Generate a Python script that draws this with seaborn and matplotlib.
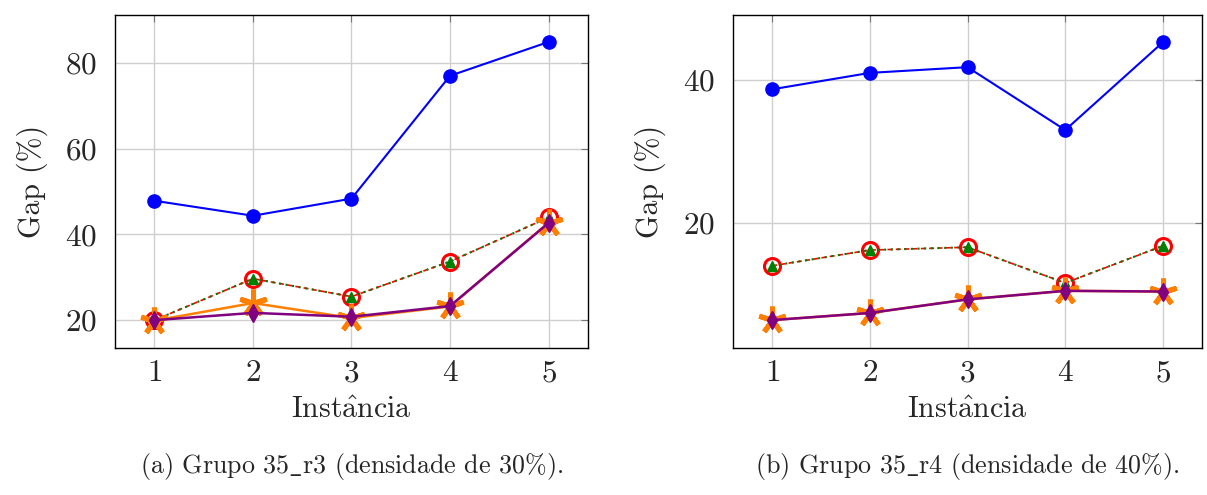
import numpy as np
import pandas as pd
import matplotlib
matplotlib.use("Agg")
import matplotlib.pyplot as plt
import seaborn as sns

sns.set_style("white")
plt.rcParams['font.family'] = ['cmr10', 'DejaVu Serif']
plt.rcParams['mathtext.fontset'] = 'cm'
plt.rcParams['axes.formatter.use_mathtext'] = True

instancias = [1, 2, 3, 4, 5]

# Grupo 35_r3
r3_azul = [47.8, 44.3, 48.3, 77.0, 84.9]
r3_vermelho = [19.9, 29.6, 25.4, 33.6, 43.9]
r3_verde = [19.9, 29.6, 25.4, 33.6, 43.9]
r3_laranja = [19.8, 23.9, 20.4, 23.1, 42.7]
r3_roxo = [19.9, 21.6, 20.7, 23.2, 42.6]

# Grupo 35_r4
r4_azul = [38.7, 41.0, 41.8, 33.0, 45.3]
r4_vermelho = [14.0, 16.2, 16.6, 11.6, 16.8]
r4_verde = [14.0, 16.2, 16.6, 11.6, 16.8]
r4_laranja = [6.4, 7.4, 9.3, 10.5, 10.4]
r4_roxo = [6.4, 7.4, 9.3, 10.5, 10.4]

estilos = [
    dict(color='#0000ff', marker='o', markersize=9.5, lw=1.5, ls='-', mfc='#0000ff', mec='#0000ff', mew=1),
    dict(color='#ff0000', marker='o', markersize=11.5, lw=1.2, ls=(0, (3, 2)), mfc='none', mec='#ff0000', mew=2.2),
    dict(color='#008000', marker='^', markersize=7.5, lw=1.5, ls=(0, (1, 2.2)), mfc='#008000', mec='#008000', mew=1),
    dict(color='#ff8000', marker=(5, 2, 0), markersize=20, lw=1.8, ls='-', mfc='#ff8000', mec='#ff8000', mew=3.6),
    dict(color='#800080', marker='d', markersize=9, lw=1.8, ls='-', mfc='#800080', mec='#800080', mew=1),
]


def painel(ax, series, ylim, yticks, legenda):
    for vals, st in zip(series, estilos):
        df = pd.DataFrame({'Instancia': instancias, 'Gap': vals})
        sns.lineplot(data=df, x='Instancia', y='Gap', ax=ax, color=st['color'],
                     marker=st['marker'], markersize=st['markersize'], linewidth=st['lw'],
                     linestyle=st['ls'], markerfacecolor=st['mfc'], markeredgecolor=st['mec'],
                     markeredgewidth=st['mew'], zorder=3)
    ax.set_xlim(0.6, 5.4)
    ax.set_ylim(*ylim)
    ax.set_xticks(instancias)
    ax.set_yticks(yticks)
    ax.grid(True, color='#cfcfcf', lw=1.0)
    ax.set_axisbelow(True)
    ax.tick_params(direction='in', length=5, width=0.8, color='#777777',
                   top=True, right=True, labelsize=22.5)
    ax.tick_params(axis='y', pad=13)
    ax.tick_params(axis='x', pad=8)
    for s in ax.spines.values():
        s.set_color('black')
        s.set_linewidth(1.0)
    ax.set_xlabel(r'Inst$\mathrm{\hat{a}}$ncia', fontsize=21.5, labelpad=7)
    ax.set_ylabel('Gap (%)', fontsize=21.5, labelpad=12)
    ax.text(0.5, -0.355, legenda, transform=ax.transAxes, ha='center', va='center', fontsize=18.7)


fig = plt.figure(figsize=(12.07, 4.95), dpi=100)
ax1 = fig.add_axes([0.0953, 0.297, 0.3918, 0.6727])
ax2 = fig.add_axes([0.6073, 0.297, 0.3886, 0.6727])

painel(ax1, [r3_azul, r3_vermelho, r3_verde, r3_laranja, r3_roxo], (13.4, 91.2), [20, 40, 60, 80],
       r'(a) Grupo 35$\_$r3 (densidade de 30%).')
painel(ax2, [r4_azul, r4_vermelho, r4_verde, r4_laranja, r4_roxo], (2.5, 49.1), [20, 40],
       r'(b) Grupo 35$\_$r4 (densidade de 40%).')

fig.savefig('out.png', dpi=100)
